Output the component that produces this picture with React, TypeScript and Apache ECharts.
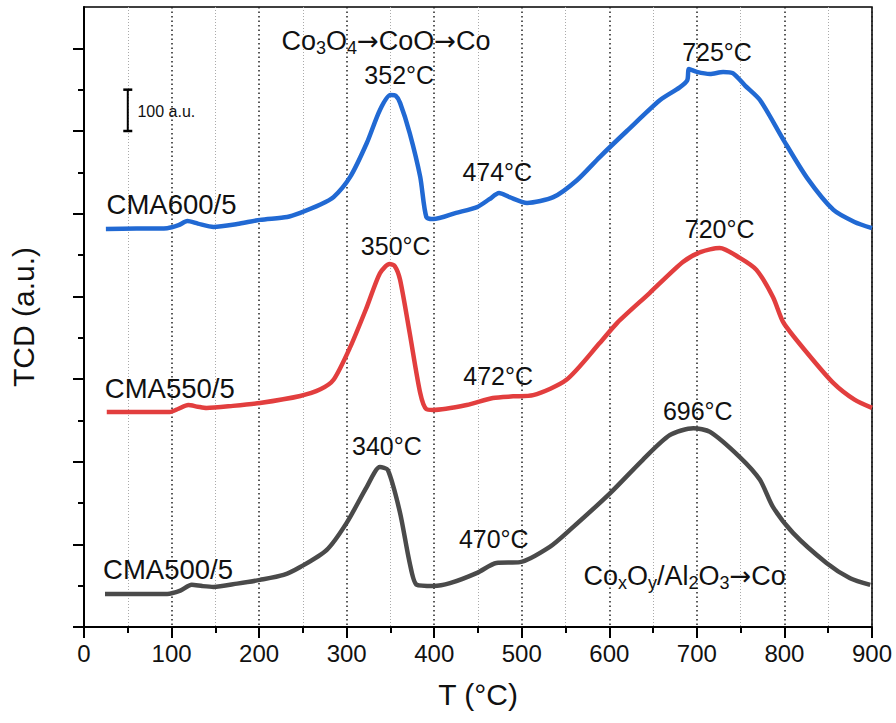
import React, { useEffect, useRef } from 'react';
import * as echarts from 'echarts';

// Temperature (°C) and TCD signal (a.u., stacked offsets included as plotted)
const tempBlue = [25, 60, 95, 108, 118, 130, 148, 175, 201, 232, 247, 270, 285, 304, 323, 338, 350, 356, 361, 372, 384, 391, 399, 425, 449, 463, 474, 486, 506, 536, 563, 589, 620, 658, 680, 689, 691, 700, 715, 730, 741, 755, 772, 799, 826, 856, 880, 900];
const valBlue = [963, 964, 965, 972, 982, 976, 968, 975, 985, 992, 1002, 1022, 1040, 1089, 1171, 1251, 1287, 1285, 1268, 1195, 1089, 992, 987, 1002, 1016, 1035, 1050, 1040, 1026, 1040, 1081, 1137, 1200, 1275, 1305, 1323, 1350, 1343, 1338, 1343, 1340, 1310, 1275, 1178, 1086, 1009, 980, 965];

const tempRed = [26, 60, 98, 108, 119, 130, 140, 170, 201, 247, 270, 285, 304, 323, 338, 349, 355, 361, 372, 384, 391, 399, 437, 467, 490, 513, 551, 589, 609, 646, 684, 704, 726, 749, 768, 787, 799, 826, 856, 880, 900];
const valRed = [520, 520, 520, 528, 537, 533, 530, 535, 542, 559, 575, 598, 677, 774, 856, 878, 873, 840, 711, 566, 527, 525, 537, 554, 558, 561, 598, 687, 736, 808, 883, 907, 917, 893, 864, 798, 736, 663, 590, 550, 530];

const tempGray = [24, 60, 95, 110, 123, 135, 148, 175, 201, 228, 247, 277, 300, 323, 338, 347, 361, 372, 380, 399, 418, 449, 471, 498, 532, 555, 601, 638, 669, 696, 715, 749, 772, 787, 810, 848, 875, 898];
const valGray = [80, 80, 80, 88, 102, 99, 97, 105, 114, 126, 145, 186, 252, 339, 387, 380, 276, 155, 102, 99, 106, 131, 155, 157, 194, 235, 324, 404, 464, 481, 472, 411, 356, 290, 227, 155, 118, 102];

const seriesNames = ['CMA600/5', 'CMA550/5', 'CMA500/5'];
const seriesColors = ['#2169d3', '#e23e3e', '#4a4a4a'];

const xTicks = [0, 100, 200, 300, 400, 500, 600, 700, 800, 900];
const yMajorTicks = [0, 200, 400, 600, 800, 1000, 1200, 1400];
const yMinorTicks = [100, 300, 500, 700, 900, 1100, 1300];

// scale bar: 100 a.u.
const scaleBarT = 50;
const scaleBarFrom = 1200;
const scaleBarTo = 1300;

// annotation texts and anchors [T, value]
const peakLabels = ['352°C', '474°C', '725°C', '350°C', '472°C', '720°C', '340°C', '470°C', '696°C'];
const peakAnchors = [[360, 1335], [472, 1101], [723, 1391], [356, 922], [473, 607], [726, 963], [346, 438], [468, 213], [701, 523]];
const nameAnchors = [[100, 1021], [98, 578], [96, 140]];
const reaction1 = '{n|Co}{s|3}{n|O}{s|4}{a|→}{n|CoO}{a|→}{n|Co}';
const reaction1Anchor = [345, 1418];
const reaction2 = '{n|Co}{s|x}{n|O}{s|y}{n|/Al}{s|2}{n|O}{s|3}{a|→}{n|Co}';
const reaction2Anchor = [686, 124];
const scaleLabel = '100 a.u.';
const scaleLabelAnchor = [94, 1248];

const FONT = "'Liberation Sans', Arial, Helvetica, sans-serif";

export default function App() {
  const ref = useRef<HTMLDivElement>(null);
  useEffect(() => {
    document.body.style.margin = '0';
    document.body.style.background = '#fff';
    const chart = echarts.init(ref.current as HTMLDivElement, null, { renderer: 'svg' });

    const zip = (t: number[], v: number[]) => t.map((x, i) => [x, v[i]]);
    const richStyles = {
      n: { fontSize: 27, color: '#111', fontFamily: FONT },
      a: { fontSize: 26, color: '#111', fontFamily: "'DejaVu Sans', sans-serif" },
      s: { fontSize: 18, color: '#111', fontFamily: FONT, padding: [15, 0, 0, 0] },
    };

    const textPoint = (anchor: number[], text: string, size: number, rich = false) => ({
      value: anchor,
      label: rich
        ? { show: true, position: 'inside', formatter: text, rich: richStyles, opacity: 1 }
        : { show: true, position: 'inside', formatter: text, fontSize: size, color: '#111', fontFamily: FONT, opacity: 1 },
    });

    const annotationData = [
      ...peakLabels.map((t, i) => textPoint(peakAnchors[i], t, 25)),
      ...seriesNames.map((t, i) => textPoint(nameAnchors[i], t, 27.5)),
      textPoint(reaction1Anchor, reaction1, 27, true),
      textPoint(reaction2Anchor, reaction2, 27, true),
      textPoint(scaleLabelAnchor, scaleLabel, 16),
    ];

    const lineSeries = [
      [tempBlue, valBlue],
      [tempRed, valRed],
      [tempGray, valGray],
    ].map(([t, v], i) => ({
      type: 'line',
      name: seriesNames[i],
      data: zip(t, v),
      showSymbol: false,
      smooth: 0.25,
      lineStyle: { color: seriesColors[i], width: 4.5 },
      itemStyle: { color: seriesColors[i] },
      z: 3,
    }));

    const option: any = {
      animation: false,
      backgroundColor: '#fff',
      textStyle: { fontFamily: FONT },
      grid: {
        left: 84,
        right: 24,
        top: 7,
        bottom: 96,
        show: true,
        borderColor: '#000',
        borderWidth: 1.5,
        backgroundColor: 'transparent',
      },
      xAxis: {
        type: 'value',
        min: 0,
        max: 900,
        interval: 100,
        name: 'T (°C)',
        nameLocation: 'middle',
        nameGap: 52,
        nameTextStyle: { fontSize: 30, color: '#111', fontFamily: FONT },
        axisLine: { show: true, lineStyle: { color: '#000', width: 2 } },
        axisTick: { show: true, inside: false, length: 11, lineStyle: { color: '#000', width: 2 } },
        minorTick: { show: true, splitNumber: 2, length: 6, lineStyle: { color: '#000', width: 2 } },
        axisLabel: {
          fontSize: 24,
          color: '#111',
          fontFamily: FONT,
          margin: 14,
          customValues: xTicks,
        },
        splitLine: { show: true, lineStyle: { color: '#222', type: [1.5, 3], width: 1.5 } },
        minorSplitLine: { show: true, lineStyle: { color: '#aaa', type: [1, 2], width: 1 } },
      },
      yAxis: [
        {
          type: 'value',
          min: 0,
          max: 1500,
          position: 'left',
          name: 'TCD (a.u.)',
          nameLocation: 'middle',
          nameGap: 46,
          nameTextStyle: { fontSize: 30, color: '#111', fontFamily: FONT },
          axisLine: { show: true, lineStyle: { color: '#000', width: 2 } },
          axisTick: { show: true, inside: false, length: 11, customValues: yMajorTicks, lineStyle: { color: '#000', width: 2 } },
          axisLabel: { show: false },
          splitLine: { show: false },
        },
        {
          type: 'value',
          min: 0,
          max: 1500,
          position: 'left',
          offset: 0,
          axisLine: { show: false },
          axisTick: { show: true, inside: false, length: 6, customValues: yMinorTicks, lineStyle: { color: '#000', width: 2 } },
          axisLabel: { show: false },
          splitLine: { show: false },
        },
      ],
      series: [
        ...lineSeries,
        {
          type: 'line',
          name: 'scale',
          data: [[scaleBarT, scaleBarFrom], [scaleBarT, scaleBarTo]],
          symbol: 'rect',
          symbolSize: [9, 2.5],
          showSymbol: true,
          lineStyle: { color: '#000', width: 2 },
          itemStyle: { color: '#000' },
          z: 4,
        },
        {
          type: 'scatter',
          name: 'annotations',
          data: annotationData,
          symbolSize: 1,
          itemStyle: { color: 'rgba(0,0,0,0)' },
          labelLayout: { hideOverlap: false },
          silent: true,
          z: 5,
        },
      ],
    };

    chart.setOption(option);
    return () => chart.dispose();
  }, []);
  return <div ref={ref} style={{ width: 896, height: 723 }} />;
}
